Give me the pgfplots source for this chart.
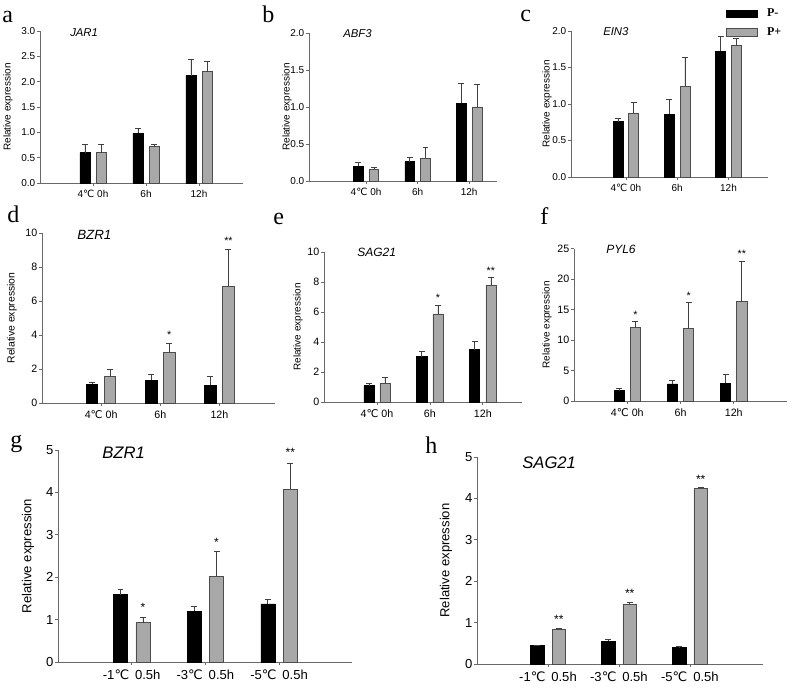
\documentclass[border=0pt]{standalone}
\usepackage{fontspec}
\setmainfont{Liberation Sans}
\newfontfamily\serif{Liberation Serif}
\newfontfamily\djv{DejaVu Sans}
\usepackage{pgfplots}
\usepackage{pgfplotstable}
\pgfplotsset{compat=1.18}
\newcommand{\dc}{{\djv ℃}}
\definecolor{pplus}{RGB}{168,168,168}
\definecolor{axgray}{RGB}{105,105,105}

\pgfplotstableread{
x m me p pe
1 0.60 0.17 0.60 0.17
2 0.98 0.09 0.72 0.04
3 2.12 0.33 2.20 0.20
}\tabA
\pgfplotstableread{
x m me p pe
1 0.20 0.05 0.16 0.02
2 0.26 0.06 0.31 0.15
3 1.05 0.27 1.00 0.30
}\tabB
\pgfplotstableread{
x m me p pe
1 0.76 0.05 0.87 0.15
2 0.86 0.20 1.24 0.40
3 1.72 0.20 1.80 0.10
}\tabC
\pgfplotstableread{
x m me p pe
1 1.09 0.14 1.58 0.42
2 1.35 0.35 2.98 0.55
3 1.03 0.55 6.86 2.16
}\tabD
\pgfplotstableread{
x m me p pe
1 1.10 0.15 1.25 0.42
2 3.03 0.37 5.87 0.55
3 3.49 0.52 7.78 0.51
}\tabE
\pgfplotstableread{
x m me p pe
1 1.70 0.30 12.1 1.0
2 2.80 0.60 11.9 4.2
3 2.95 1.45 16.3 6.6
}\tabF
\pgfplotstableread{
x m me p pe
1 1.59 0.13 0.93 0.12
2 1.20 0.11 2.02 0.58
3 1.37 0.11 4.08 0.60
}\tabG
\pgfplotstableread{
x m me p pe
1 0.44 0.02 0.84 0.01
2 0.55 0.05 1.43 0.05
3 0.40 0.02 4.24 0.03
}\tabH

\pgfplotsset{
  panel/.style={
    scale only axis, anchor=south west,
    axis x line=bottom, axis y line=left,
    axis line style={-, axgray, line width=0.6pt},
    tick align=outside, xtick pos=bottom, ytick pos=left,
    major tick length=2pt, tick style={axgray, line width=0.5pt},
    xtick={1,2,3}, ymin=0, enlargelimits=false,
    /pgf/number format/assume math mode=true,
    yticklabel style={xshift=2pt},
    ylabel={Relative expression},
    clip=false,
  },
  ebar/.style={error bars/.cd, y dir=plus, y explicit,
    error bar style={black!75, line width=0.55pt},
    error mark options={rotate=90, black!75, mark size=2.2pt, line width=0.55pt}},
  pm/.style={ybar, bar width=0.19, bar shift=0pt, fill=black, draw=black, line width=0.5pt, ebar},
  pp/.style={ybar, bar width=0.19, bar shift=0pt, fill=pplus, draw=black!70, line width=0.5pt, ebar},
  stars/.style={draw=none, mark=none, nodes near coords, point meta=explicit symbolic,
    nodes near coords style={anchor=center, inner sep=0pt, font=#1}},
}
\newcommand{\bars}[1]{%
  \addplot[pm] table[x expr=\thisrow{x}-0.152, y=m, y error=me] {#1};
  \addplot[pp] table[x expr=\thisrow{x}+0.152, y=p, y error=pe] {#1};
}
\newcommand{\fs}[1]{\fontsize{#1}{#1}\selectfont}

\begin{document}
\begin{tikzpicture}
\useasboundingbox (0,0) rectangle (600pt,-516pt);

% a
\begin{axis}[panel, at={(30pt,-137.25pt)}, width=152.25pt, height=114pt,
  xmin=0, xmax=3.83, ymax=3, ytick={0,0.5,1,1.5,2,2.5,3},
  y tick label style={/pgf/number format/.cd, fixed, fixed zerofill, precision=1},
  xticklabels={4\dc\ 0h,6h,12h},
  tick label style={font=\fs{7.5}},
  ylabel style={font=\fs{7.5}, at={(axis description cs:-0.158,0.5)}, anchor=center}]
\bars{\tabA}
\end{axis}

% b
\begin{axis}[panel, at={(231.75pt,-135.75pt)}, width=141pt, height=111pt,
  xmin=-0.107, xmax=3.54, ymax=2, ytick={0,0.5,1,1.5,2},
  y tick label style={/pgf/number format/.cd, fixed, fixed zerofill, precision=1},
  xticklabels={4\dc\ 0h,6h,12h},
  tick label style={font=\fs{7.5}},
  ylabel style={font=\fs{7.5}, at={(axis description cs:-0.117,0.5)}, anchor=center}]
\bars{\tabB}
\end{axis}

% c
\begin{axis}[panel, at={(428.25pt,-132.75pt)}, width=147.75pt, height=109.5pt,
  xmin=-0.07, xmax=3.77, ymax=2, ytick={0,0.5,1,1.5,2},
  y tick label style={/pgf/number format/.cd, fixed, fixed zerofill, precision=1},
  xticklabels={4\dc\ 0h,6h,12h},
  tick label style={font=\fs{7.5}},
  ylabel style={font=\fs{7.5}, at={(axis description cs:-0.122,0.5)}, anchor=center},
  legend style={draw=none, fill=none, at={(axis description cs:0.785,1.17)}, anchor=north west,
    font=\serif\bfseries\fs{9}, inner sep=0pt, row sep=2.2pt, column sep=5pt},
  legend cell align=left]
\addlegendimage{legend image code/.code={\draw[fill=black,draw=black] (0pt,-2.6pt) rectangle (23.25pt,2.6pt);}}
\addlegendentry{P-}
\addlegendimage{legend image code/.code={\draw[fill=pplus,draw=black!70,line width=0.6pt] (0pt,-2.9pt) rectangle (23.25pt,2.9pt);}}
\addlegendentry{P+}
\bars{\tabC}
\end{axis}

% d
\begin{axis}[panel, at={(31.5pt,-302.25pt)}, width=174.75pt, height=127.5pt,
  xmin=0, xmax=3.94, ymax=10, ytick={0,2,4,6,8,10},
  xticklabels={4\dc\ 0h,6h,12h},
  tick label style={font=\fs{8}},
  ylabel style={font=\fs{7.8}, at={(axis description cs:-0.129,0.5)}, anchor=center}]
\bars{\tabD}
\addplot[stars=\fs{8}] coordinates {(2.152,4.0) [*] (3.152,9.55) [**]};
\end{axis}

% e
\begin{axis}[panel, at={(243pt,-301.5pt)}, width=148.5pt, height=112.5pt,
  xmin=0, xmax=3.74, ymax=10, ytick={0,2,4,6,8,10},
  xticklabels={4\dc\ 0h,6h,12h},
  tick label style={font=\fs{8}},
  ylabel style={font=\fs{7.5}, at={(axis description cs:-0.131,0.5)}, anchor=center}]
\bars{\tabE}
\addplot[stars=\fs{8}] coordinates {(2.152,6.95) [*] (3.152,8.75) [**]};
\end{axis}

% f
\begin{axis}[panel, at={(430.5pt,-300.75pt)}, width=159.75pt, height=114.3pt,
  xmin=0, xmax=4.0, ymax=25, ytick={0,5,10,15,20,25},
  xticklabels={4\dc\ 0h,6h,12h},
  tick label style={font=\fs{8}},
  ylabel style={font=\fs{7.5}, at={(axis description cs:-0.127,0.5)}, anchor=center}]
\bars{\tabF}
\addplot[stars=\fs{8}] coordinates {(1.152,14.2) [*] (2.152,17.3) [*] (3.152,24.1) [**]};
\end{axis}

% g
\begin{axis}[panel, at={(43.5pt,-496.5pt)}, width=220.5pt, height=159pt,
  xmin=0, xmax=3.99, ymax=5, ytick={0,1,2,3,4,5},
  xticklabels={-1\dc\hspace{0.45em}0.5h,-3\dc\hspace{0.45em}0.5h,-5\dc\hspace{0.45em}0.5h},
  tick label style={font=\fs{9.8}},
  ylabel style={font=\fs{9.8}, at={(axis description cs:-0.102,0.5)}, anchor=center}]
\bars{\tabG}
\addplot[stars=\fs{9}] coordinates {(1.152,1.28) [*] (2.152,2.83) [*] (3.152,4.94) [**]};
\end{axis}

% h
\begin{axis}[panel, at={(357.75pt,-498pt)}, width=214.5pt, height=155.25pt,
  xmin=0, xmax=4.03, ymax=5, ytick={0,1,2,3,4,5},
  xticklabels={-1\dc\hspace{0.45em}0.5h,-3\dc\hspace{0.45em}0.5h,-5\dc\hspace{0.45em}0.5h},
  tick label style={font=\fs{9.8}},
  ylabel style={font=\fs{9.8}, at={(axis description cs:-0.108,0.5)}, anchor=center}]
\bars{\tabH}
\addplot[stars=\fs{9}] coordinates {(1.152,1.08) [**] (2.152,1.71) [**] (3.152,4.47) [**]};
\end{axis}

% gene names
\begin{scope}[every node/.style={anchor=west, inner sep=0pt}]
\node[font=\itshape\fs{8.5}] at (52.5pt,-24.75pt) {JAR1};
\node[font=\itshape\fs{8.5}] at (257.25pt,-25.5pt) {ABF3};
\node[font=\itshape\fs{8.5}] at (452.25pt,-24pt) {EIN3};
\node[font=\itshape\fs{10}] at (57.75pt,-176.25pt) {BZR1};
\node[font=\itshape\fs{9}] at (267.75pt,-189pt) {SAG21};
\node[font=\itshape\fs{9}] at (454.5pt,-186.75pt) {PYL6};
\node[font=\itshape\fs{12.5}] at (76.5pt,-339.75pt) {BZR1};
\node[font=\itshape\fs{12.5}] at (391.5pt,-347.25pt) {SAG21};
\end{scope}

% panel letters
\begin{scope}[every node/.style={anchor=base west, inner sep=0pt, font=\serif\fs{18}}]
\node at (1.5pt,-17.25pt) {a};
\node at (196.5pt,-17pt) {b};
\node at (390pt,-16.3pt) {c};
\node at (5.25pt,-167.25pt) {d};
\node at (204.75pt,-168pt) {e};
\node at (405pt,-168pt) {f};
\node at (7.5pt,-335.25pt) {g};
\node at (318.75pt,-339.75pt) {h};
\end{scope}
\end{tikzpicture}
\end{document}
